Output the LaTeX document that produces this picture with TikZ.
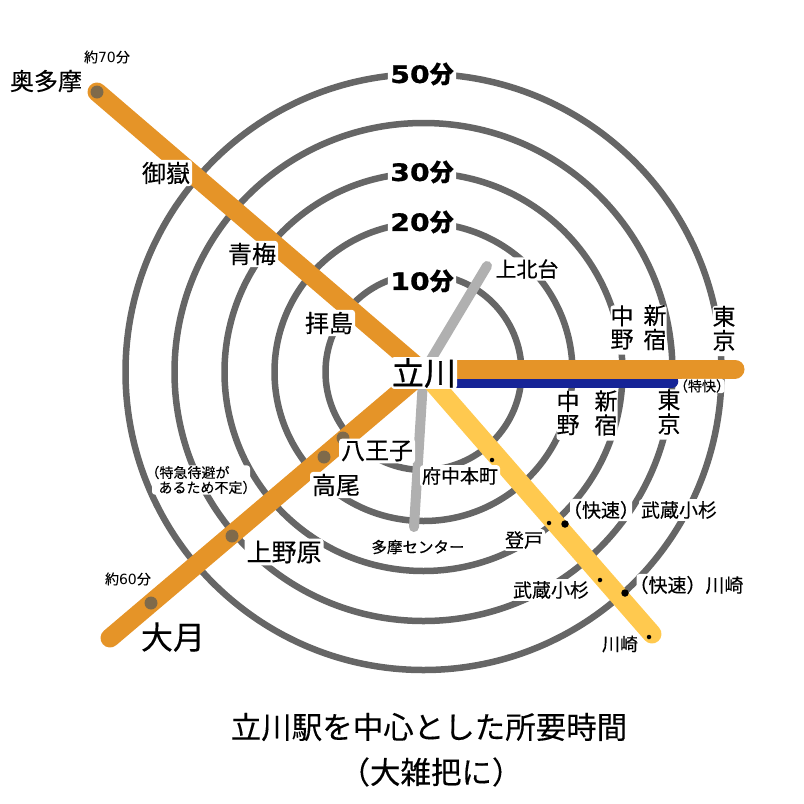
\documentclass[tikz,border=0pt]{standalone}
\usepackage{fontspec}
\setmainfont{Noto Sans CJK JP}[FakeBold=0.25]
\newfontfamily\heavyfont{Noto Sans CJK JP}[FakeBold=0.7]
\newfontfamily\numfont{DejaVu Sans}
\newfontfamily\numheavy{DejaVu Sans Bold}[FakeStretch=1.18,FakeBold=0.8]
\definecolor{ring}{HTML}{666666}
\definecolor{orangeline}{HTML}{E59428}
\definecolor{blueline}{HTML}{162497}
\definecolor{yellowline}{HTML}{FFC94F}
\definecolor{grayline}{HTML}{B0B0B0}
\definecolor{stop}{HTML}{7F6A4A}
\newcommand{\fs}[1]{\fontsize{#1}{#1}\selectfont}
\newcommand{\vt}[3]{\fontsize{#1}{#1}\selectfont\begin{tabular}{@{}c@{}}#2\\[-2pt]#3\end{tabular}}
\newcommand{\trimL}[1]{\hspace*{-#1pt}}
\tikzset{
 x=1pt,y=-1pt,
 rail/.style={line width=19pt,line cap=round},
 lab/.style={fill=white,rounded corners=3pt,inner sep=2pt,text=black,align=center},
 vlab/.style={lab,inner sep=0pt},
 plain/.style={inner sep=0pt,text=black,align=center},
 mins/.style={fill=white,rounded corners=3pt,inner sep=2.5pt,font=\fs{24}\bfseries},
 brown/.style={circle,fill=stop,inner sep=0pt,minimum size=13pt},
 smalldot/.style={circle,fill=black,inner sep=0pt,minimum size=4.5pt},
 bigdot/.style={circle,fill=black,inner sep=0pt,minimum size=7.5pt},
}
\begin{document}
\begin{tikzpicture}
\useasboundingbox (0,0) rectangle (804,804);
\coordinate (c) at (423.5,372);
\foreach \r in {98,149,199,249,298}{\node[circle,draw=ring,line width=6.5pt,minimum size=2*\r pt,inner sep=0pt] at (c) {};}
% lines
\coordinate (okutama) at (97,92);
\coordinate (otsuki) at (110,638);
\coordinate (east) at (735,369);
\coordinate (tokyoex) at (672,381.5);
\coordinate (kawasaki) at (652,634);
\coordinate (kamikita) at (487,266);
\coordinate (tama) at (414,527);
\draw[grayline,line width=10pt,line cap=round] (kamikita) -- (c) -- (tama);
\draw[yellowline,rail] (c) -- (kawasaki);
\draw[orangeline,rail] (okutama) -- (c);
\draw[orangeline,rail] (otsuki) -- (c);
\draw[blueline,line width=12.5pt,line cap=round] (c |- tokyoex) -- (tokyoex);
\draw[orangeline,rail] (c |- east) -- (east);
% stops
\node[brown] (s1) at (97,92) {};
\node[brown] (s2) at (343,438) {};
\node[brown] (s3) at (324,457) {};
\node[brown] (s4) at (232,536) {};
\node[brown] (s5) at (151,603) {};
\node[smalldot] (d1) at (492,460) {};
\node[smalldot] (d2) at (549,523) {};
\node[bigdot] (d3) at (565,524) {};
\node[smalldot] (d4) at (600,580) {};
\node[bigdot] (d5) at (625,593) {};
\node[smalldot] (d6) at (649,637) {};
% minutes
\node[mins] (m50) at (422,74) {{\numheavy 50}{\heavyfont 分}};
\node[mins] (m30) at (422,172) {{\numheavy 30}{\heavyfont 分}};
\node[mins] (m20) at (422,222) {{\numheavy 20}{\heavyfont 分}};
\node[mins] (m10) at (422,281) {{\numheavy 10}{\heavyfont 分}};
% labels
\node[plain,font=\fs{24}] (n1) at (46,81) {奥多摩};
\node[plain,font=\fs{14}] (n2) at (107,57) {約{\numfont 70}分};
\node[lab,font=\fs{24}] (n3) at (166,173) {御嶽};
\node[lab,font=\fs{24}] (n4) at (252,254) {青梅};
\node[lab,font=\fs{24}] (n5) at (329,323) {拝島};
\node[lab,font=\fs{21}] (n6) at (527,269) {上北台};
\node[vlab] (n7) at (622,330) {\vt{23}{中}{野}};
\node[vlab] (n8) at (655,330) {\vt{23}{新}{宿}};
\node[vlab] (n9) at (724,331) {\vt{23}{東}{京}};
\node[vlab] (n10) at (568,415.5) {\vt{23}{中}{野}};
\node[vlab] (n11) at (606,415.5) {\vt{23}{新}{宿}};
\node[vlab] (n12) at (669,414.5) {\vt{23}{東}{京}};
\node[lab,font=\fs{14},inner sep=0.5pt] (n13) at (702,386) {\trimL{6}（特快）\trimL{6}};
\node[lab,font=\fs{24}] (n14) at (377,451) {八王子};
\node[lab,font=\fs{24}] (n15) at (336,485) {高尾};
\node[lab,font=\fs{25}] (n16) at (284,552) {上野原};
\node[plain,font=\fs{32}] (n17) at (173,637) {大月};
\node[plain,font=\fs{14}] (n18) at (128,579) {約{\numfont 60}分};
\node[lab,font=\fs{14},inner sep=0.5pt,align=left] (n19) at (201,480) {\trimL{7}（特急待避が\\[1pt]\hspace*{6pt}あるため不定）\trimL{7}};
\node[lab,font=\fs{19}] (n20) at (460,476) {府中本町};
\node[lab,font=\fs{15.5}] (n21) at (418,547) {多摩センター};
\node[lab,font=\fs{19}] (n22) at (524,540) {登戸};
\node[lab,font=\fs{19}] (n23) at (601,510) {\trimL{9}（快速）\trimL{9}};
\node[lab,font=\fs{19}] (n24) at (679,510) {武蔵小杉};
\node[lab,font=\fs{19}] (n25) at (551,590) {武蔵小杉};
\node[lab,font=\fs{19}] (n26) at (691,585) {\trimL{9}（快速）川崎};
\node[lab,font=\fs{18}] (n27) at (620,644) {川崎};
\node[lab,font=\fs{32},inner sep=1pt] (n28) at (424,373) {{\heavyfont 立川}};
\node[plain,font=\fs{30.5}] (t1) at (429,727) {立川駅を中心とした所要時間};
\node[plain,font=\fs{30.5}] (t2) at (431,772) {（大雑把に）};
\end{tikzpicture}
\end{document}
